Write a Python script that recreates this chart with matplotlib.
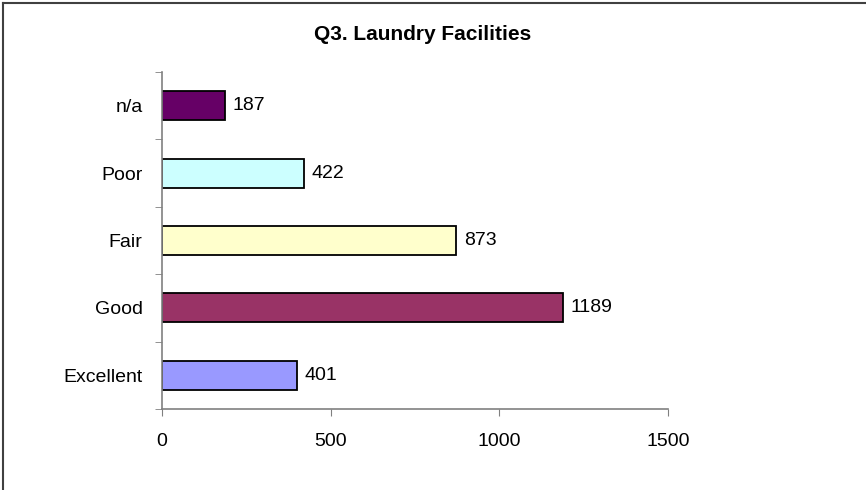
import matplotlib
matplotlib.use("Agg")
import matplotlib.pyplot as plt
from matplotlib.lines import Line2D
import numpy as np

# data, bottom to top
categories = ["Excellent", "Good", "Fair", "Poor", "n/a"]
counts = [401, 1189, 873, 422, 187]
bar_colors = ["#9999FF", "#993366", "#FFFFCC", "#CCFFFF", "#660066"]
x_ticks = [0, 500, 1000, 1500]

plt.rcParams["font.family"] = ["Liberation Sans", "DejaVu Sans"]

W, H = 866, 490
fs = 14
fig = plt.figure(figsize=(W / 100, H / 100), dpi=100)
ax = fig.add_axes([162 / W, 1 - 409 / H, (668 - 162) / W, (409 - 72) / H])

y = np.arange(len(categories))
ax.barh(y, counts, height=0.43, color=bar_colors, edgecolor="black", linewidth=1.3)
for yi, v in zip(y, counts):
    ax.text(v + 22, yi, str(v), va="center", ha="left", fontsize=fs)

ax.set_xlim(0, 1500)
ax.set_ylim(-0.5, len(categories) - 0.5)
ax.set_xticks(x_ticks)
ax.set_xticklabels([str(t) for t in x_ticks], fontsize=fs)
ax.set_yticks(y)
ax.set_yticklabels(categories, fontsize=fs)
ax.set_yticks(np.arange(len(categories) + 1) - 0.5, minor=True)
ax.tick_params(axis="y", which="major", length=0, pad=14)
ax.tick_params(axis="y", which="minor", length=5, color="#808080", direction="out")
ax.tick_params(axis="x", length=5, color="#808080", direction="out", pad=12)

for s in ["top", "right"]:
    ax.spines[s].set_visible(False)
for s in ["left", "bottom"]:
    ax.spines[s].set_color("#808080")
    ax.spines[s].set_linewidth(1.2)

fig.text(423 / W, 1 - 35 / H, "Q3. Laundry Facilities", ha="center", va="center",
         fontsize=15, fontweight="bold")

# chart outer border (left and top visible)
fig.add_artist(Line2D([3 / W, 3 / W], [0, 1 - 3 / H], color="#404040", lw=1.5))
fig.add_artist(Line2D([3 / W, 1], [1 - 3 / H, 1 - 3 / H], color="#404040", lw=1.5))

fig.savefig("out.png", dpi=100)
